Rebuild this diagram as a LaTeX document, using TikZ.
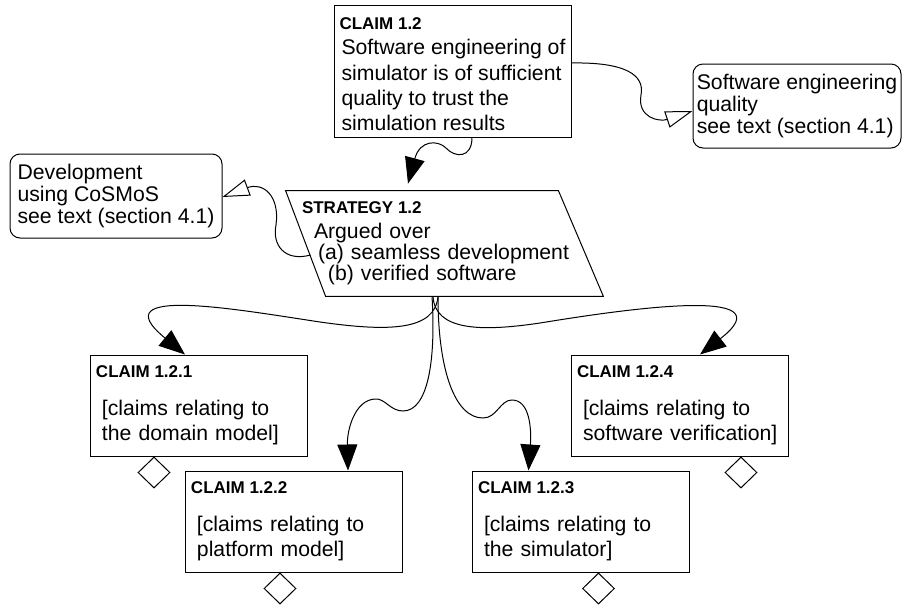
\documentclass[tikz,border=0pt]{standalone}
\usepackage{fontspec}
\setmainfont{Liberation Sans}
\usetikzlibrary{shapes.geometric, arrows.meta}

\newcommand{\gsnbody}{\fontsize{10.6}{12.6}\selectfont}
\newcommand{\gsnctx}{\fontsize{10.6}{10.85}\selectfont}
\newcommand{\gsnhead}[1]{{\fontsize{8.5}{10}\selectfont\bfseries\spaceskip=0pt\relax #1}}

\tikzstyle{support} = [line width=0.5pt, -{Triangle[length=13pt, width=10pt]}]
\tikzstyle{incontext} = [line width=0.5pt, -{Triangle[open, length=13.5pt, width=8.5pt]}]
\tikzstyle{goal} = [rectangle, draw=black, line width=0.5pt, inner sep=0pt, align=left, font=\gsnbody]
\tikzstyle{claim} = [goal, minimum width=108.5pt, minimum height=50.5pt, text width=102.5pt, inner xsep=3pt]
\tikzstyle{ctxbox} = [rectangle, rounded corners=5pt, draw=black, line width=0.5pt, minimum height=42pt, inner sep=0pt, align=left, font=\gsnctx]
\tikzstyle{undev} = [diamond, draw=black, line width=0.5pt, minimum width=16pt, minimum height=15.5pt, inner sep=0pt, anchor=north]

\begin{document}
\begin{tikzpicture}[x=0.5pt, y=-0.5pt]
\path[use as bounding box, fill=white] (0,0) rectangle (902,606);

% CLAIM 1.2 and its context:
\node(c12)[goal, minimum width=118.5pt, minimum height=66pt] at (452.5,71)
{\rule{0pt}{9.2pt}\gsnhead{CLAIM 1.2}\\
 \hspace*{1pt}Software engineering of\\
 \hspace*{1pt}simulator is of sufficient\\
 \hspace*{1pt}quality to trust the\\
 \hspace*{1pt}simulation results};

\node(swq)[ctxbox, minimum width=104pt] at (797,106)
{Software engineering\\quality\\see text (section 4.1)};

% STRATEGY 1.2 and its context:
\node(strat)[rectangle, minimum width=158.5pt, minimum height=52.5pt, text width=142.5pt,
  inner xsep=8pt, inner ysep=0pt, align=left, font=\fontsize{10.6}{10.5}\selectfont] at (444.5,243.5)
{\gsnhead{STRATEGY 1.2}\\[2.2pt]
 \hspace*{6pt}Argued over\\
 \hspace*{8pt}(a) seamless development\\
 \hspace*{13pt}(b) verified software};
\draw[line width=0.5pt] (strat.north west) -- ([xshift=-22.5pt]strat.north east)
  -- (strat.south east) -- ([xshift=20pt]strat.south west) -- cycle;

\node(dev)[ctxbox, minimum width=106pt] at (116,196)
{Development\\using CoSMoS\\see text (section 4.1)};

% sub-claims:
\node(c121)[claim] at (198.5,405.5)
{\gsnhead{CLAIM 1.2.1}\\[6.3pt]
 \hspace*{3pt}[claims relating to\\
 \hspace*{3pt}the domain model]};
\node(c122)[claim] at (293.5,521.5)
{\gsnhead{CLAIM 1.2.2}\\[6.3pt]
 \hspace*{3pt}[claims relating to\\
 \hspace*{3pt}platform model]};
\node(c123)[claim] at (580.5,521.5)
{\gsnhead{CLAIM 1.2.3}\\[6.3pt]
 \hspace*{3pt}[claims relating to\\
 \hspace*{3pt}the simulator]};
\node(c124)[claim] at (679.5,405.5)
{\gsnhead{CLAIM 1.2.4}\\[6.3pt]
 \hspace*{3pt}[claims relating to\\
 \hspace*{3pt}software verification]};

% undeveloped markers:
\node(u121)[undev] at ([xshift=-22.25pt]c121.south) {};
\node(u122)[undev] at ([xshift=-6.75pt]c122.south) {};
\node(u123)[undev] at ([xshift=9pt]c123.south) {};
\node(u124)[undev] at ([xshift=30.75pt]c124.south) {};

% connectors:
\draw[support] ([xshift=9.75pt]c12.south) .. controls +(0,21) and +(9,10) .. (446,148)
  .. controls +(-8,-8) and +(12,-44) .. ([xshift=-18.25pt, yshift=3.5pt]strat.north);
\draw[incontext] ([yshift=4pt]c12.east) .. controls +(54,-1) and +(4,-20) .. (641,95)
  .. controls +(-4,23) and +(-33,11) .. ([yshift=-2.5pt]swq.west);
\draw[incontext] ([xshift=12.5pt, yshift=-5.75pt]strat.west) .. controls +(-26,7) and +(-4,20) .. (276,225)
  .. controls +(4,-30) and +(40,-15) .. ([yshift=-0.5pt]dev.east);

\draw[support] ([xshift=-3.25pt]strat.south) .. controls +(-3,34) and +(70,10) .. (320,322)
  .. controls +(-80,-12) and +(-85,-70) .. ([xshift=-6.75pt]c121.north);
\draw[support] ([xshift=-6.25pt]strat.south) .. controls +(4,64) and +(25,0) .. (403,411)
  .. controls +(-13,0) and +(10,-1) .. (375,399)
  .. controls +(-20,1) and +(-1,-41) .. ([xshift=27.25pt]c122.north);
\draw[support] ([xshift=-3.25pt]strat.south) .. controls +(0,74) and +(-28,0) .. (483,418)
  .. controls +(14,0) and +(-12,0) .. (512,400)
  .. controls +(18,0) and +(3,-41) .. ([xshift=-26pt]c123.north);
\draw[support] ([xshift=-5.75pt]strat.south) .. controls +(2,34) and +(-60,9) .. (540,323)
  .. controls +(80,-13) and +(90,-70) .. ([xshift=10.25pt]c124.north);

\end{tikzpicture}
\end{document}
